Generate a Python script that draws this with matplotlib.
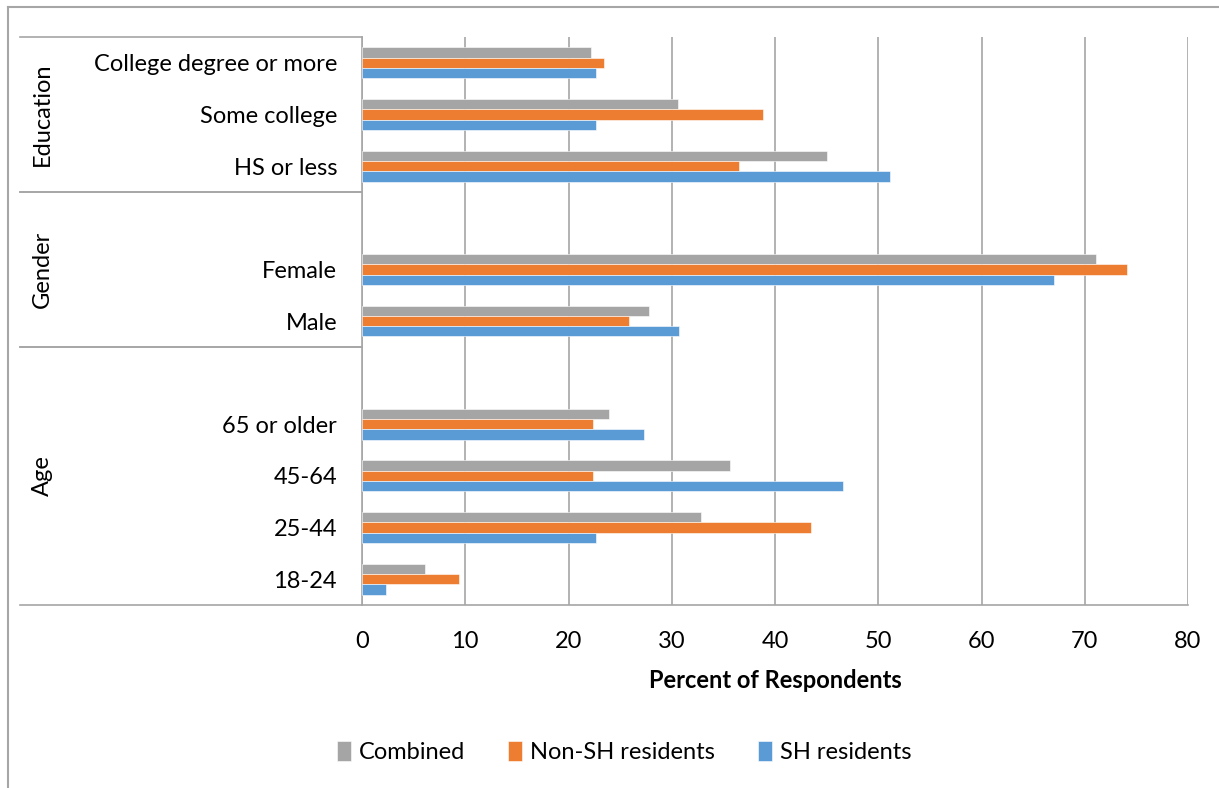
import numpy as np
import matplotlib.pyplot as plt
from matplotlib.lines import Line2D

plt.rcParams['font.family'] = ['Lato', 'DejaVu Sans']

# Categories from bottom to top ("" = empty slot inside a group)
categories = ["18-24", "25-44", "45-64", "65 or older", "",
              "Male", "Female", "",
              "HS or less", "Some college", "College degree or more"]

combined = [6.1, 32.8, 35.6, 23.9, np.nan, 27.8, 71.1, np.nan, 45.0, 30.6, 22.2]
non_sh = [9.4, 43.5, 22.4, 22.4, np.nan, 25.9, 74.1, np.nan, 36.5, 38.8, 23.4]
sh = [2.3, 22.7, 46.6, 27.3, np.nan, 30.7, 67.0, np.nan, 51.1, 22.7, 22.7]

# Outer groups: (label, first slot, last slot)
groups = [("Age", 0, 4), ("Gender", 5, 7), ("Education", 8, 10)]

series_names = ["Combined", "Non-SH residents", "SH residents"]
colors = ["#A5A5A5", "#ED7D31", "#5B9BD5"]
gridc = "#A6A6A6"
fs = 17

fig = plt.figure(figsize=(12.19, 7.88), dpi=100)
ax = fig.add_axes([362/1219, 1 - 605/788, 826/1219, 568/788])

y = np.arange(len(categories))
h = 0.2
for vals, off, col, name in zip([combined, non_sh, sh], [h, 0, -h], colors, series_names):
    ax.barh(y + off, vals, height=h, color=col, label=name, zorder=3,
            edgecolor='white', linewidth=0.4)

ax.set_xlim(0, 80)
ax.set_ylim(-0.5, len(categories) - 0.5)
ax.set_xticks(np.arange(0, 81, 10))
ax.set_yticks(y)
ax.set_yticklabels(categories)
ax.tick_params(axis='y', length=0, pad=18, labelsize=fs)
ax.tick_params(axis='x', length=0, pad=19, labelsize=fs)
ax.xaxis.grid(True, color=gridc, linewidth=1.2, zorder=0)

for s in ['top', 'right']:
    ax.spines[s].set_visible(False)
for s in ['left', 'bottom']:
    ax.spines[s].set_color(gridc)
    ax.spines[s].set_linewidth(1.2)

ax.set_xlabel("Percent of Respondents", fontsize=fs, fontweight='bold', labelpad=12)

# multi-level category table on the left
tr = ax.get_yaxis_transform()
x0 = (20 - 362) / 826
for name, lo, hi in groups:
    ax.plot([x0, 0], [lo - 0.5, lo - 0.5], transform=tr, color=gridc, lw=1.2, clip_on=False)
    ax.plot([x0, 0], [hi + 0.5, hi + 0.5], transform=tr, color=gridc, lw=1.2, clip_on=False)
    ax.text((42 - 362) / 826, (lo + hi) / 2, name, transform=tr, rotation=90,
            ha='center', va='center', fontsize=fs)

# chart area border (top and left)
fig.add_artist(Line2D([8/1219, 8/1219], [0, 1 - 7/788], color=gridc, lw=1.5))
fig.add_artist(Line2D([8/1219, 1], [1 - 7/788, 1 - 7/788], color=gridc, lw=1.5))

fig.legend(loc='center', bbox_to_anchor=(0.512, 1 - 752/788), ncol=3, frameon=False,
           fontsize=fs, handlelength=0.6, handleheight=0.9, handletextpad=0.35,
           columnspacing=1.8)

fig.savefig("out.png", dpi=100)
